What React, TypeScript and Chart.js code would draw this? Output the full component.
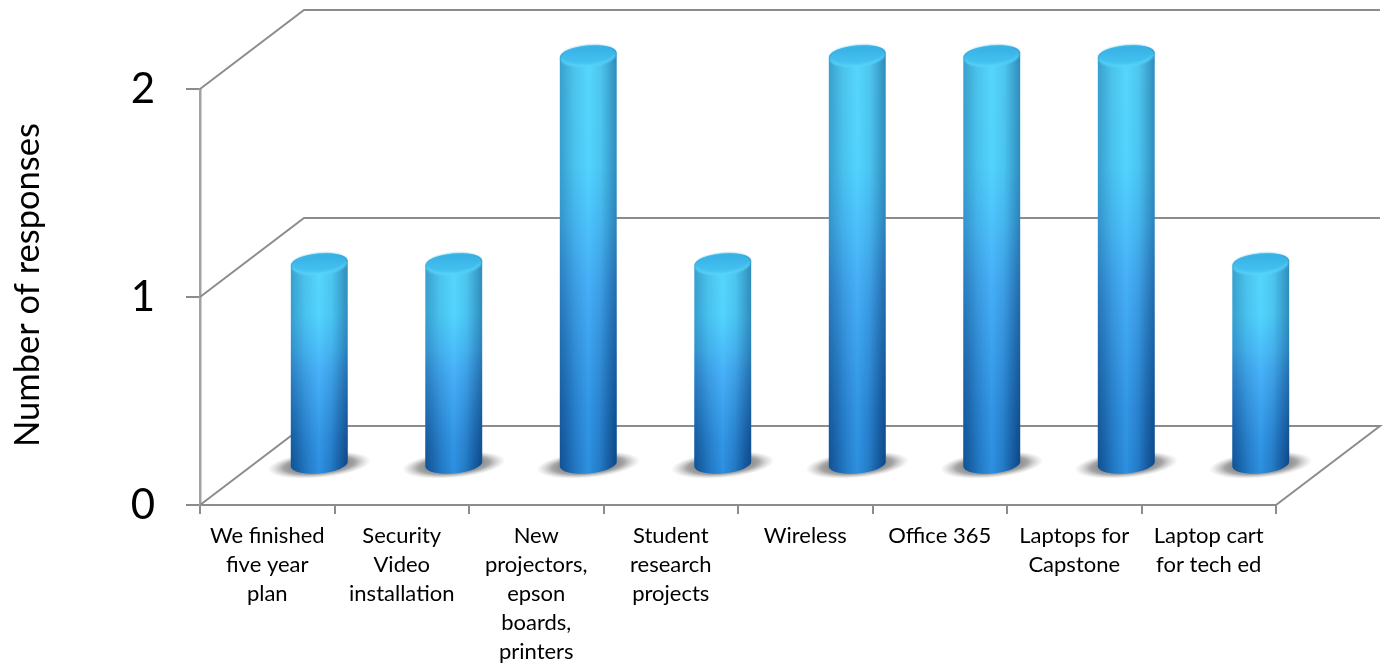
import React, { useEffect, useRef } from "react";
import { Chart, registerables } from "chart.js";

Chart.register(...registerables);

const categories: string[][] = [
  ["We finished", "five year", "plan"],
  ["Security", "Video", "installation"],
  ["New", "projectors,", "epson", "boards,", "printers"],
  ["Student", "research", "projects"],
  ["Wireless"],
  ["Office 365"],
  ["Laptops for", "Capstone"],
  ["Laptop cart", "for tech ed"],
];
const responses = [1, 1, 2, 1, 2, 2, 2, 1];
const tickValues = [0, 1, 2];
const yAxisTitle = "Number of responses";

const LINE = "#8c8c8c";
const AXIS = "#a2a2a2";
const FONT = "Lato";
// Oblique offset between the front plane and the back wall of the 3D box.
const DEPTH_X = 104;
const DEPTH_Y = -79;
// Cylinders stand halfway into the box.
const BAR_SHIFT_X = 52;
const BAR_BASE_SHIFT = -40;
const BAR_TOP_SHIFT = -34;
const CAP_RY = 9.5;
const CAP_TILT = -0.09;

const box3d = {
  id: "box3d",
  beforeDatasetsDraw(chart: any) {
    const { ctx, chartArea, scales } = chart;
    const { left, right } = chartArea;
    ctx.save();
    ctx.strokeStyle = LINE;
    ctx.lineWidth = 2;
    for (const v of tickValues) {
      const y = scales.y.getPixelForValue(v);
      ctx.beginPath();
      ctx.moveTo(left, y);
      ctx.lineTo(left + DEPTH_X, y + DEPTH_Y);
      ctx.lineTo(right + DEPTH_X, y + DEPTH_Y);
      if (v === 0) ctx.lineTo(right, y);
      ctx.stroke();
    }
    ctx.restore();
  },
};

function cylinderPath(ctx: CanvasRenderingContext2D, cx: number, top: number, bottom: number, rx: number) {
  ctx.beginPath();
  ctx.ellipse(cx, top, rx, CAP_RY, CAP_TILT, Math.PI, Math.PI * 2);
  ctx.ellipse(cx, bottom, rx, CAP_RY, CAP_TILT, 0, Math.PI);
  ctx.closePath();
}

const cylinders = {
  id: "cylinders",
  beforeDatasetDraw(chart: any, args: any) {
    const { ctx } = chart;
    const meta = args.meta;
    ctx.save();
    for (const el of meta.data) {
      const cx = el.x + BAR_SHIFT_X;
      const rx = el.width / 2;
      const top = el.y + BAR_TOP_SHIFT;
      const bottom = el.base + BAR_BASE_SHIFT;

      // Floor shadow: a tilted ellipse fading out from the foot
      ctx.save();
      ctx.translate(cx, bottom + 1);
      ctx.rotate(CAP_TILT);
      ctx.scale(1, 0.25);
      const floor = ctx.createRadialGradient(0, 0, 20, 0, 0, 52);
      floor.addColorStop(0, "rgba(80,80,80,0.8)");
      floor.addColorStop(0.5, "rgba(110,110,110,0.62)");
      floor.addColorStop(1, "rgba(170,170,170,0)");
      ctx.fillStyle = floor;
      ctx.beginPath();
      ctx.arc(0, 0, 52, 0, Math.PI * 2);
      ctx.fill();
      ctx.restore();

      // Body: light cyan at the top, deep blue at the foot
      const vertical = ctx.createLinearGradient(0, top - CAP_RY, 0, bottom + CAP_RY);
      vertical.addColorStop(0, "#45c6f4");
      vertical.addColorStop(0.05, "#56d6fc");
      vertical.addColorStop(0.28, "#52d4ff");
      vertical.addColorStop(0.55, "#46b0f8");
      vertical.addColorStop(0.85, "#3296e6");
      vertical.addColorStop(1, "#2c90e0");
      cylinderPath(ctx, cx, top, bottom, rx);
      ctx.fillStyle = vertical;
      ctx.fill();

      // Roundness: darken toward both edges
      const horizontal = ctx.createLinearGradient(cx - rx, 0, cx + rx, 0);
      horizontal.addColorStop(0, "rgba(0,55,110,0.34)");
      horizontal.addColorStop(0.25, "rgba(0,55,110,0.12)");
      horizontal.addColorStop(0.5, "rgba(0,55,110,0)");
      horizontal.addColorStop(0.72, "rgba(0,55,110,0.1)");
      horizontal.addColorStop(1, "rgba(0,45,100,0.44)");
      cylinderPath(ctx, cx, top, bottom, rx);
      ctx.fillStyle = horizontal;
      ctx.fill();

      // Edge shading deepens row by row down the lower half of the body
      ctx.save();
      cylinderPath(ctx, cx, top, bottom, rx);
      ctx.clip();
      const edges = ctx.createLinearGradient(cx - rx, 0, cx + rx, 0);
      edges.addColorStop(0, "rgba(0,40,100,0.45)");
      edges.addColorStop(0.32, "rgba(0,40,100,0.12)");
      edges.addColorStop(0.5, "rgba(0,40,100,0)");
      edges.addColorStop(0.68, "rgba(0,40,100,0.12)");
      edges.addColorStop(1, "rgba(0,40,100,0.5)");
      ctx.fillStyle = edges;
      const span = bottom + CAP_RY - top;
      const firstRow = Math.round(top + span * 0.4);
      const lastRow = Math.round(bottom + CAP_RY);
      for (let row = firstRow; row <= lastRow; row++) {
        ctx.globalAlpha = (row - firstRow) / (lastRow - firstRow);
        ctx.fillRect(cx - rx - 1, row, rx * 2 + 2, 1);
      }
      ctx.restore();

      // Top cap with a pale rim along its front edge
      ctx.save();
      ctx.filter = "blur(1.2px)";
      ctx.beginPath();
      ctx.ellipse(cx, top + 2, rx - 1, CAP_RY, CAP_TILT, 0, Math.PI * 2);
      ctx.fillStyle = "#5ad6fa";
      ctx.fill();
      const cap = ctx.createLinearGradient(0, top - CAP_RY, 0, top + CAP_RY);
      cap.addColorStop(0, "#36aee2");
      cap.addColorStop(1, "#46c4f3");
      ctx.beginPath();
      ctx.ellipse(cx, top, rx - 1, CAP_RY, CAP_TILT, 0, Math.PI * 2);
      ctx.fillStyle = cap;
      ctx.fill();
      ctx.restore();
    }
    ctx.restore();
    return false;
  },
};

// Axis title sits slightly above the middle of the front plane.
const axisTitle = {
  id: "axisTitle",
  afterDraw(chart: any) {
    const { ctx } = chart;
    ctx.save();
    ctx.translate(28, 285);
    ctx.rotate(-Math.PI / 2);
    ctx.textAlign = "center";
    ctx.textBaseline = "middle";
    ctx.fillStyle = "#000";
    ctx.font = `34.5px ${FONT}`;
    ctx.fillText(yAxisTitle, 0, 0);
    ctx.restore();
  },
};

export default function App() {
  const ref = useRef<HTMLCanvasElement>(null);
  useEffect(() => {
    document.body.style.margin = "0";
    const chart = new Chart(ref.current!, {
      type: "bar",
      data: {
        labels: categories as any,
        datasets: [
          {
            label: yAxisTitle,
            data: responses,
            backgroundColor: "#2b9be6",
            categoryPercentage: 1,
            barPercentage: 0.424,
          },
        ],
      },
      options: {
        animation: false,
        responsive: false,
        devicePixelRatio: 1,
        layout: { padding: { top: 89, right: 108, left: 0, bottom: 0 } },
        plugins: { legend: { display: false }, tooltip: { enabled: false } },
        scales: {
          x: {
            afterFit: (s: any) => {
              s.height = 165;
            },
            border: { color: LINE, width: 2 },
            grid: { color: LINE, lineWidth: 2, drawOnChartArea: false, tickLength: 9 },
            ticks: {
              autoSkip: false,
              maxRotation: 0,
              minRotation: 0,
              padding: 7,
              color: "#000",
              font: { family: FONT, size: 22, lineHeight: 1.318 },
            },
          },
          y: {
            min: 0,
            max: 2,
            afterFit: (s: any) => {
              s.width = 200;
            },
            border: { color: AXIS, width: 2.5 },
            grid: { color: LINE, lineWidth: 2, drawOnChartArea: false, tickLength: 14 },
            ticks: {
              stepSize: 1,
              padding: 31,
              color: "#000",
              font: { family: FONT, size: 42 },
            },
          },
        },
      },
      plugins: [box3d, cylinders, axisTitle],
    } as any);
    return () => chart.destroy();
  }, []);
  return <canvas ref={ref} width={1384} height={670} style={{ display: "block" }} />;
}
